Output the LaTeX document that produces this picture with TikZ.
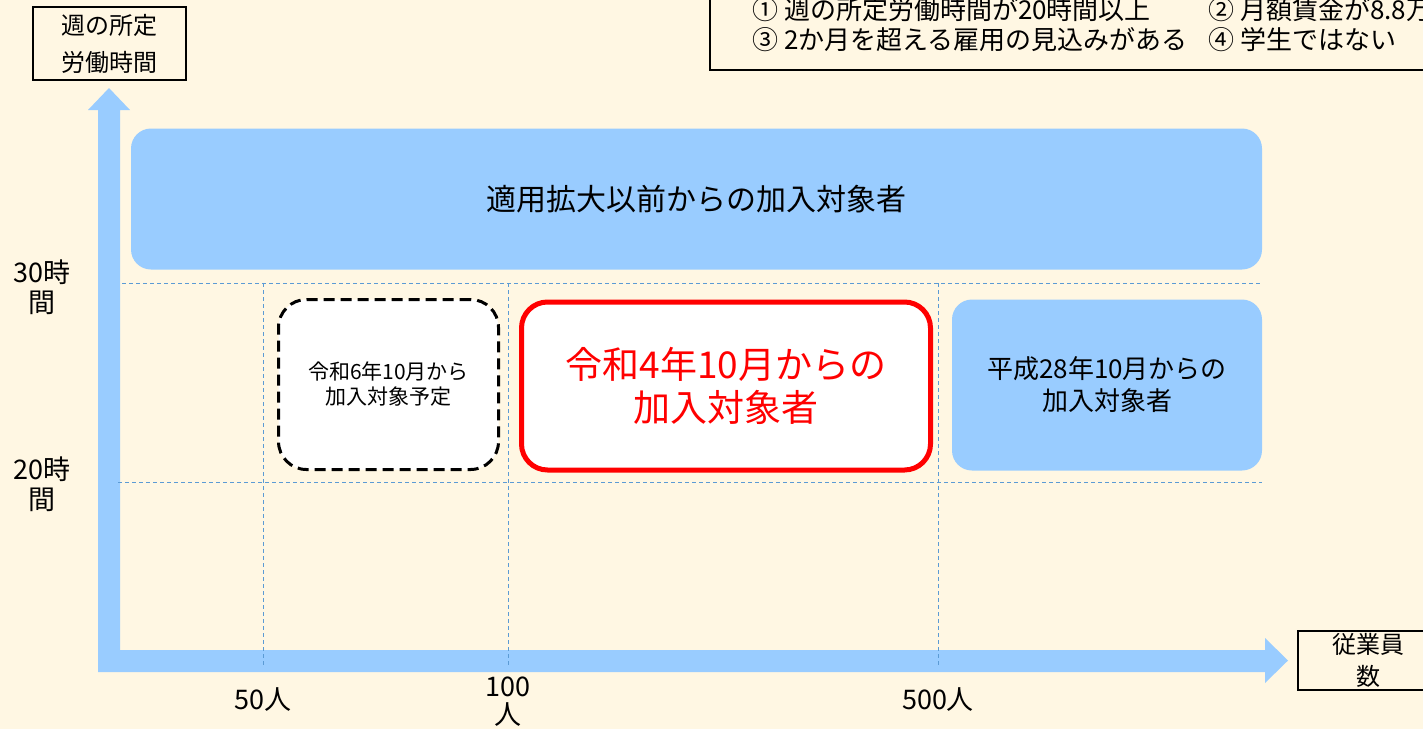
\documentclass[tikz,border=0pt]{standalone}
\usepackage{fontspec}
\setmainfont{Noto Sans CJK JP}
\definecolor{bgc}{HTML}{FFF7E3}
\definecolor{axisblue}{HTML}{99CCFF}
\definecolor{gridblue}{HTML}{5B9BD5}
\definecolor{redc}{HTML}{FF0000}
\tikzset{
  fs/.style 2 args={font=\fontsize{#1}{#2}\selectfont},
  framebox/.style={draw=black, line width=2pt, fill=bgc, inner sep=0pt, outer sep=0pt, align=center},
  bluebox/.style={fill=axisblue, rounded corners=20pt, inner sep=0pt, outer sep=0pt, align=center},
  dashbox/.style={draw=black, fill=white, line width=3pt, dash pattern=on 11pt off 6pt, rounded corners=28pt, inner sep=0pt, outer sep=0pt, align=center},
  redbox/.style={draw=redc, fill=white, line width=5pt, rounded corners=26pt, inner sep=0pt, outer sep=0pt, align=center, text=redc},
  gridline/.style={draw=gridblue, line width=1pt, dash pattern=on 4pt off 3pt},
  lbl/.style={inner sep=0pt, align=center},
}
\begin{document}
\begin{tikzpicture}[x=1pt,y=-1pt]
\useasboundingbox (0,0) rectangle (1423,729);
\fill[bgc] (0,0) rectangle (1423,729);
\clip (0,0) rectangle (1423,729);

% axes
\fill[axisblue] (98,672) -- (98,110) -- (88,110) -- (109,88) -- (130,110) -- (120,110)
  -- (120,650) -- (1265,650) -- (1265,638) -- (1288,660.5) -- (1265,683) -- (1265,672) -- cycle;

% grid
\coordinate (h1a) at (122,283); \coordinate (h1b) at (1262,283);
\coordinate (h2a) at (118,482); \coordinate (h2b) at (1262,482);
\draw[gridline] (h1a) -- (h1b);
\draw[gridline] (h2a) -- (h2b);
\coordinate (v1a) at (263,283); \coordinate (v1b) at (263,665);
\coordinate (v2a) at (508,283); \coordinate (v2b) at (508,665);
\coordinate (v3a) at (938,283); \coordinate (v3b) at (938,665);
\draw[gridline] (v1a) -- (v1b);
\draw[gridline] (v2a) -- (v2b);
\draw[gridline] (v3a) -- (v3b);

% boxes
\node[bluebox, minimum width=1131pt, minimum height=141pt, fs={30}{36}] (prev) at (696.5,199) {適用拡大以前からの加入対象者};
\node[dashbox, minimum width=220pt, minimum height=170pt, fs={21}{25}] (r6) at (388.5,384.5) {令和6年10月から\\加入対象予定};
\node[redbox, minimum width=409pt, minimum height=168pt, fs={37}{43}] (r4) at (726,386) {令和4年10月からの\\加入対象者};
\node[bluebox, minimum width=310pt, minimum height=171pt, fs={26}{32}] (h28) at (1107,385) {平成28年10月からの\\加入対象者};

% axis label boxes
\node[framebox, minimum width=153pt, minimum height=73pt, fs={24}{37}] (ylab) at (109.5,43.5) {週の所定\\労働時間};
\node[framebox, minimum width=140pt, minimum height=59pt, fs={24}{32}, anchor=west] (xlab) at (1298,660.5) {従業員\\数};

% condition box
\node[framebox, minimum width=760pt, minimum height=100pt, anchor=south west] (cond) at (710,70) {};
\node[lbl, fs={26}{30}, anchor=west] (c1) at (752,10) {① 週の所定労働時間が20時間以上};
\node[lbl, fs={26}{30}, anchor=west] (c2) at (1208,10) {② 月額賃金が8.8万円以上};
\node[lbl, fs={26}{30}, anchor=west] (c3) at (752,40) {③ 2か月を超える雇用の見込みがある};
\node[lbl, fs={26}{30}, anchor=west] (c4) at (1208,40) {④ 学生ではない};

% tick labels
\node[lbl, fs={27}{30}] (t30) at (42,287) {30時\\間};
\node[lbl, fs={27}{30}] (t20) at (42,484) {20時\\間};
\node[lbl, fs={27}{30}] (t50) at (263,700) {50人};
\node[lbl, fs={27}{28}] (t100) at (508,702) {100\\人};
\node[lbl, fs={27}{30}] (t500) at (938,700) {500人};
\end{tikzpicture}
\end{document}
